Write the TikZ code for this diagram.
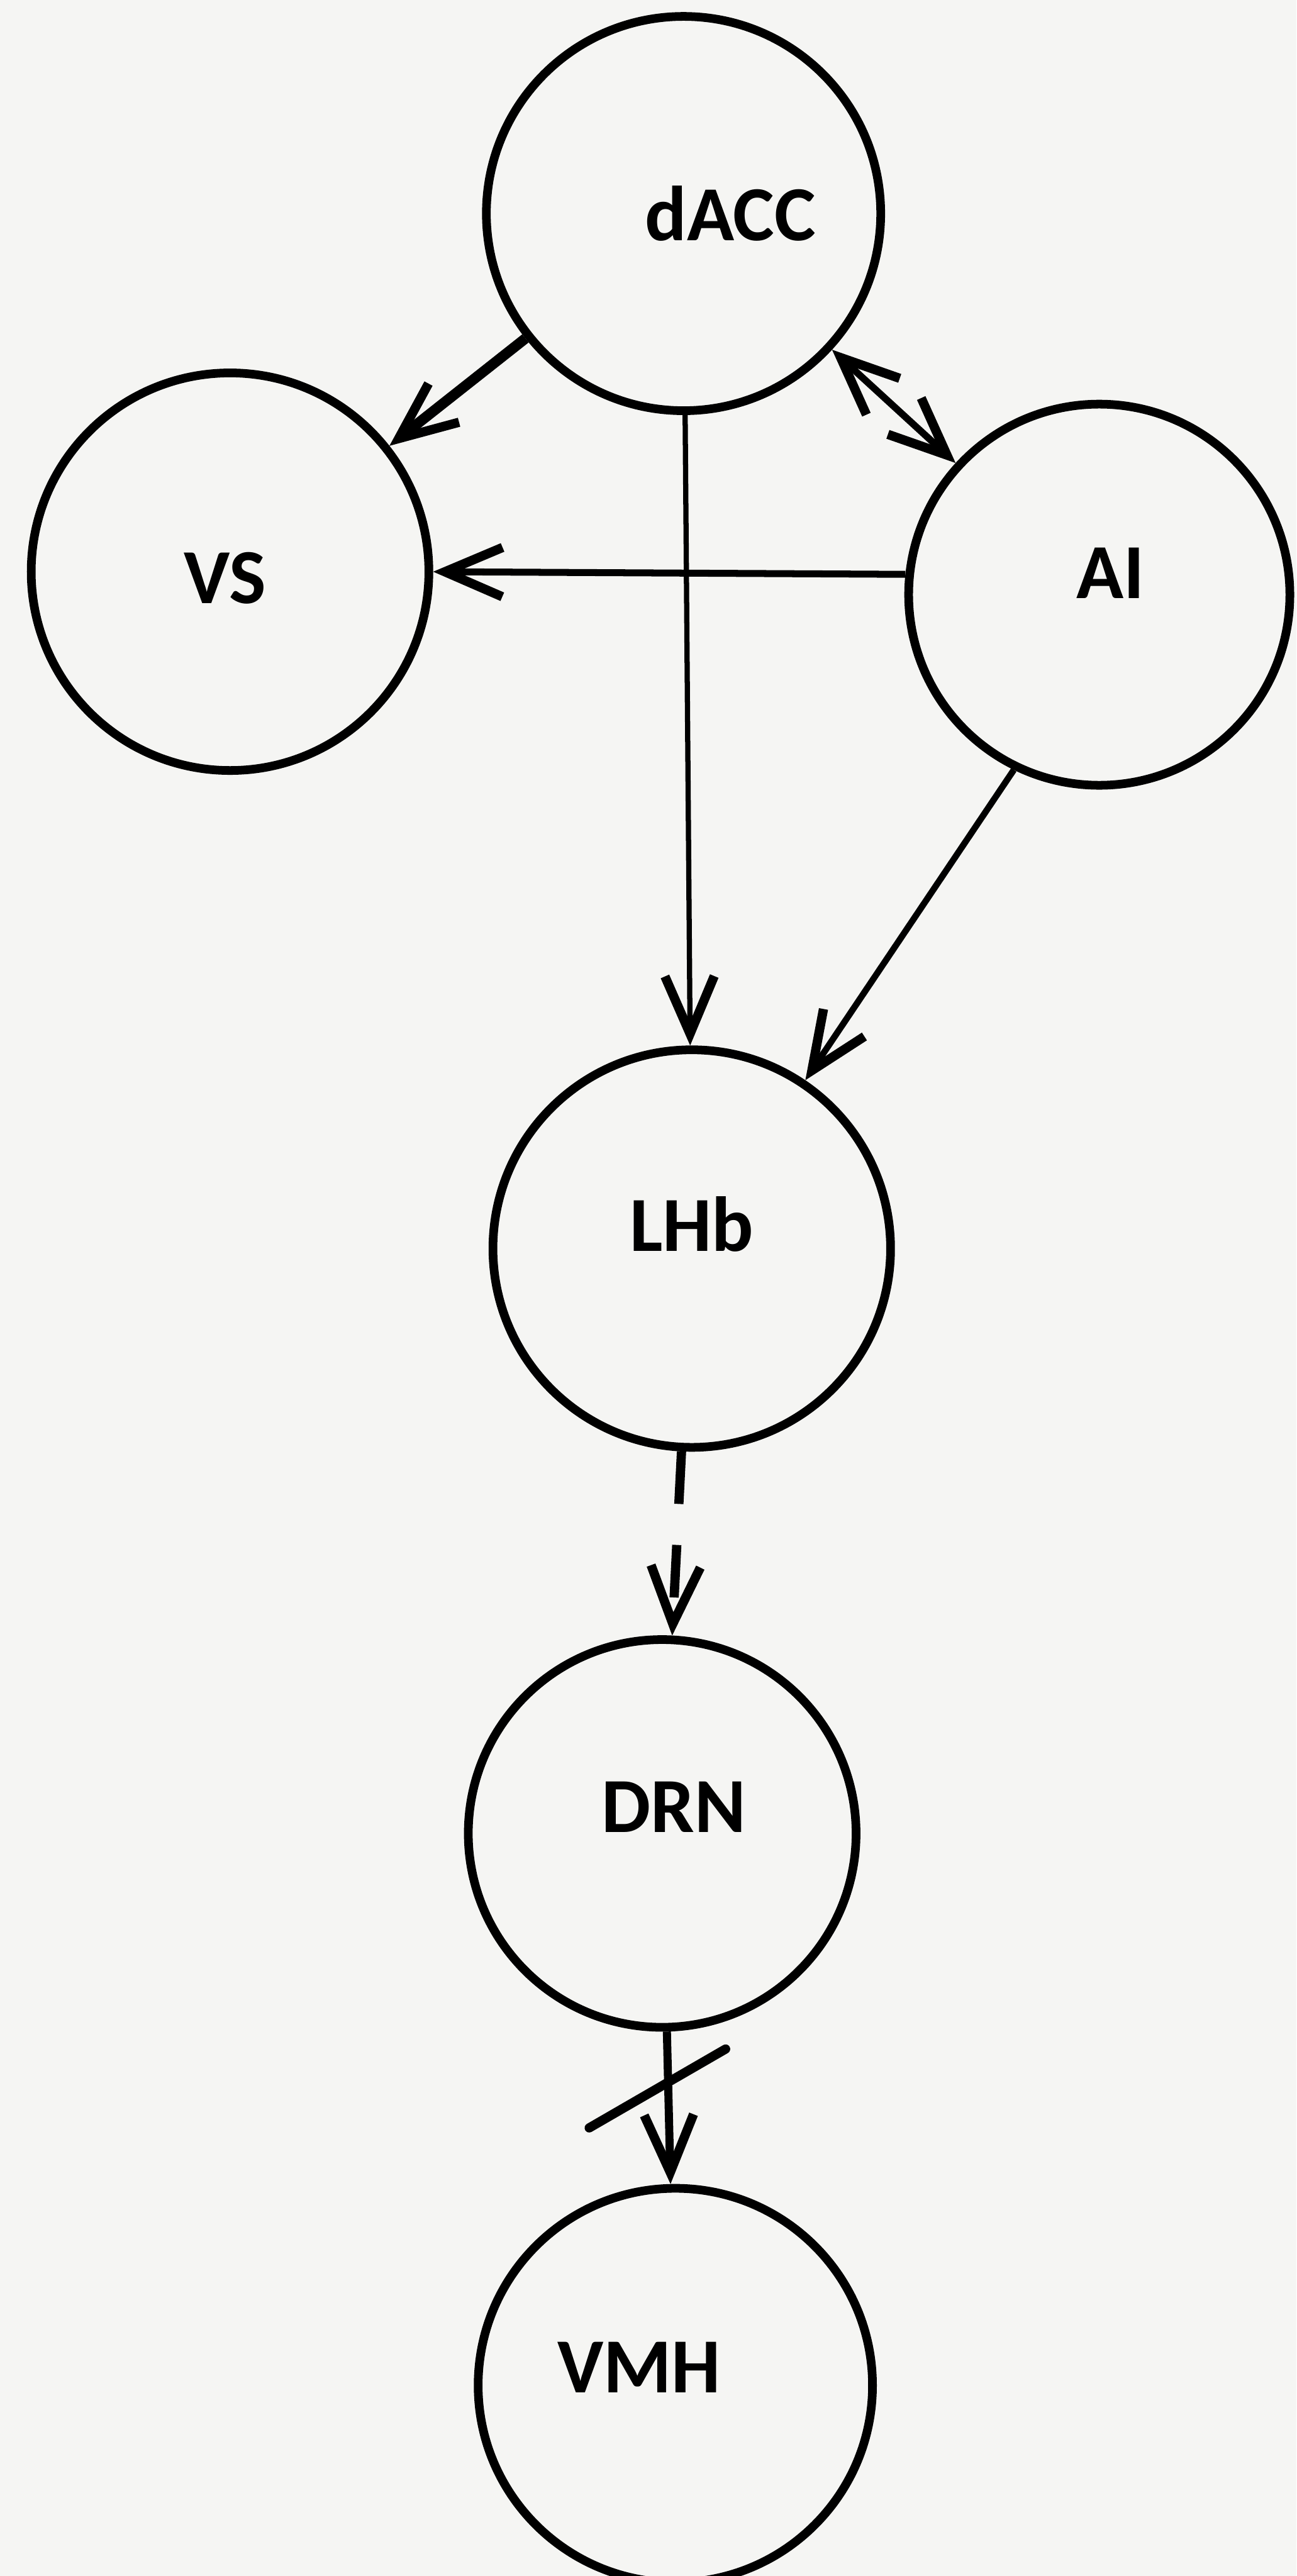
\documentclass[tikz,border=0pt]{standalone}
\usepackage{fontspec}
\setmainfont{Carlito}
\usetikzlibrary{positioning,arrows.meta}
\definecolor{paper}{RGB}{245,245,243}

\begin{document}
\begin{tikzpicture}[
  >={Straight Barb[length=7mm,width=6mm,line width=3.2pt]},
  region/.style={circle, draw, line width=3pt, minimum size=4.8cm, inner sep=0pt},
  tag/.style={font=\fontsize{27}{32}\selectfont\bfseries},
  link/.style={->, line width=1.8pt},
  ]
  \fill[paper] (0,0) rectangle (15.78,-31.36);
  \useasboundingbox (0,0) rectangle (15.78,-31.36);

  \node[
  region,
  label={[tag, xshift=5.7mm]center:dACC},
  ] (dacc) at (8.32,-2.6) {};

  \node[
  left of=dacc,
  region,
  minimum size=4.84cm,
  label={[tag, xshift=-0.6mm, yshift=-0.8mm]center:VS},
  xshift=-4.52cm, yshift=-4.36cm] (vs) {};

  \node[
  right of=dacc,
  region,
  minimum size=4.64cm,
  label={[tag, xshift=1.4mm, yshift=2.6mm]center:AI},
  xshift=4.06cm, yshift=-4.64cm] (ai) {};

  \node[
  below of=dacc,
  region,
  minimum size=4.84cm,
  label={[tag, yshift=3mm]center:LHb},
  xshift=1mm, yshift=-11.6cm] (lhb) {};

  \node[
  below of=lhb,
  region,
  minimum size=4.72cm,
  label={[tag, xshift=1.4mm, yshift=3.2mm]center:DRN},
  xshift=-3.6mm, yshift=-6.12cm] (drn) {};

  \node[
  below of=drn,
  region,
  label={[tag, xshift=-4.4mm, yshift=2.2mm]center:VMH},
  xshift=1.6mm, yshift=-5.72cm] (vmh) {};

  \draw[link, line width=3.6pt] (dacc)--(vs);
  \draw[link, <->, line width=2.4pt] (dacc)--(ai);
  \draw[link, line width=2.4pt] (ai.174)--(vs.east);
  \draw[link] (dacc)--(lhb);
  \draw[link, line width=2.2pt] (ai.244)--(lhb.56);
  \draw[link, line width=3.2pt, dash pattern=on 6.4mm off 5mm] (lhb)--(drn);
  \draw[link, line width=2.8pt] (drn)-- coordinate[pos=0.33] (cut) (vmh);
  \draw[line width=3.2pt, line cap=round] ([shift={(-0.96,-0.56)}]cut)--([shift={(0.7,0.4)}]cut);
\end{tikzpicture}
\end{document}
